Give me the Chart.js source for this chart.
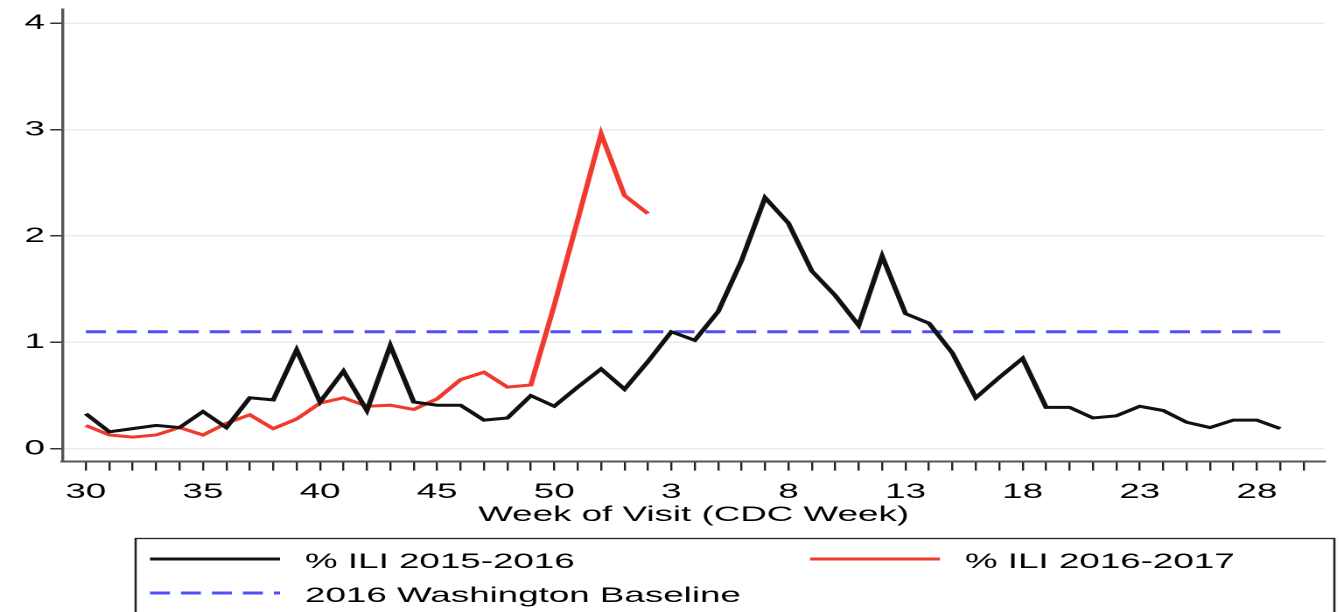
<!DOCTYPE html>
<html>
<head>
<meta charset="utf-8">
<script src="https://cdn.jsdelivr.net/npm/chart.js@4.4.1/dist/chart.umd.min.js"></script>
<style>
  html, body { margin: 0; padding: 0; background: #fff; overflow: hidden; }
  #wrap { width: 1340px; height: 612px; overflow: hidden; }
  /* the reference graph is stretched sideways, so the canvas is too */
  #myChart { transform: scaleX(1.75); transform-origin: 0 0; }
</style>
</head>
<body>
<div id="wrap"><canvas id="myChart" width="766" height="612"></canvas></div>
<script>
// CDC weeks, season runs week 30 to week 29
const weeks = [30, 31, 32, 33, 34, 35, 36, 37, 38, 39, 40, 41, 42, 43, 44, 45, 46, 47, 48, 49, 50, 51, 52,
               1, 2, 3, 4, 5, 6, 7, 8, 9, 10, 11, 12, 13, 14, 15, 16, 17, 18, 19, 20, 21, 22, 23, 24, 25, 26, 27, 28, 29]

// Week labels that get printed on the x axis
const tickWeeks = [30, 35, 40, 45, 50, 3, 8, 13, 18, 23, 28]
const yTicks = [0, 1, 2, 3, 4]

// % ILI 2015-2016
const ili1516 = [0.33, 0.16, 0.19, 0.22, 0.20, 0.35, 0.20, 0.48, 0.46, 0.93, 0.44, 0.73, 0.36, 0.97, 0.44, 0.41,
                 0.41, 0.27, 0.29, 0.50, 0.40, 0.58, 0.75, 0.56, 0.82, 1.10, 1.02, 1.29, 1.77, 2.36, 2.12, 1.67,
                 1.44, 1.16, 1.81, 1.27, 1.18, 0.90, 0.48, 0.67, 0.85, 0.39, 0.39, 0.29, 0.31, 0.40, 0.36, 0.25,
                 0.20, 0.27, 0.27, 0.19]

// % ILI 2016-2017 (season only up to week 2)
const ili1617 = [0.22, 0.13, 0.11, 0.13, 0.20, 0.13, 0.24, 0.32, 0.19, 0.28, 0.43, 0.48, 0.40, 0.41, 0.37, 0.47,
                 0.65, 0.72, 0.58, 0.60, 1.35, 2.15, 2.96, 2.38, 2.21]

// 2016 Washington baseline
const baseline = 1.1

const legendNames = ["% ILI 2015-2016", "% ILI 2016-2017", "2016 Washington Baseline"]

const FONT = "'Liberation Sans', Arial, sans-serif"

// Points on the week index axis
function toPoints(values){
    let points = []
    for (let i=0; i<values.length; i++){
        points.push({x: i, y: values[i]})
    }
    return points
}

// Legend box drawn under the axis, like the Stata one
const legendBox = {
    id: 'legendBox',
    afterDraw(chart){
        const ctx = chart.ctx
        const ds = chart.data.datasets
        ctx.save()

        // frame
        ctx.strokeStyle = '#222'
        ctx.lineWidth = 1.3
        ctx.strokeRect(77.5, 538.5, 685, 90)

        // entries: [dataset, line x0, line x1, y, text x]
        const items = [
            [0, 85.7, 160, 559, 174.3],
            [1, 462.9, 537.1, 559, 551.4],
            [2, 85.7, 160, 593, 174.3]
        ]
        ctx.font = "21px " + FONT
        ctx.fillStyle = '#000'
        ctx.textBaseline = 'middle'
        for (let k=0; k<items.length; k++){
            let it = items[k]
            let d = ds[it[0]]
            ctx.beginPath()
            ctx.strokeStyle = d.borderColor
            ctx.lineWidth = 3
            ctx.setLineDash(d.borderDash || [])
            ctx.moveTo(it[1], it[3])
            ctx.lineTo(it[2], it[3])
            ctx.stroke()
            ctx.setLineDash([])
            ctx.fillText(d.label, it[4], it[3] + 3)
        }
        ctx.restore()
    }
}

const data = {
    datasets: [
        {
            label: legendNames[0],
            data: toPoints(ili1516),
            borderColor: '#111111',
            borderWidth: 3,
            pointRadius: 0,
            tension: 0
        },
        {
            label: legendNames[1],
            data: toPoints(ili1617),
            borderColor: '#f03a2e',
            borderWidth: 3,
            pointRadius: 0,
            tension: 0
        },
        {
            label: legendNames[2],
            data: toPoints(weeks.map(() => baseline)),
            borderColor: '#4f4ffa',
            borderWidth: 3,
            borderDash: [11.4, 6.3],
            pointRadius: 0,
            tension: 0
        }
    ]
}

const config = {
    type: 'line',
    data: data,
    options: {
        responsive: false,
        animation: false,
        devicePixelRatio: 2,
        layout: {
            padding: {left: 11, right: 9, top: 7, bottom: 84}
        },
        plugins: {
            legend: {display: false},
            tooltip: {enabled: false}
        },
        scales: {
            x: {
                type: 'linear',
                min: -1,
                max: 52.9,
                afterBuildTicks: function(axis){
                    // one tick per week, plus one after the last week
                    axis.ticks = weeks.concat([null]).map((w, i) => ({value: i}))
                },
                grid: {
                    drawOnChartArea: false,
                    drawTicks: true,
                    tickLength: 9,
                    tickColor: '#222',
                    lineWidth: 1.2
                },
                border: {color: '#555', width: 2},
                ticks: {
                    autoSkip: false,
                    maxRotation: 0,
                    padding: 9,
                    color: '#000',
                    font: {family: FONT, size: 21},
                    callback: function(value){
                        let w = weeks[value]
                        return tickWeeks.includes(w) ? String(w) : ''
                    }
                },
                title: {
                    display: true,
                    text: 'Week of Visit (CDC Week)',
                    color: '#000',
                    font: {family: FONT, size: 21},
                    padding: {top: -11, bottom: 0}
                }
            },
            y: {
                min: -0.12,
                max: 4.13,
                afterBuildTicks: function(axis){
                    axis.ticks = yTicks.map(v => ({value: v}))
                },
                grid: {
                    color: '#e4eef1',
                    lineWidth: 1.5,
                    drawTicks: true,
                    tickLength: 7,
                    tickColor: '#333'
                },
                border: {color: '#555', width: 1.7},
                ticks: {
                    padding: 3,
                    color: '#000',
                    // small line height so the top label does not push the plot down
                    font: {family: FONT, size: 21, lineHeight: 0.6}
                }
            }
        }
    },
    plugins: [legendBox]
}

const myChart = new Chart(document.getElementById('myChart'), config)
</script>
</body>
</html>
